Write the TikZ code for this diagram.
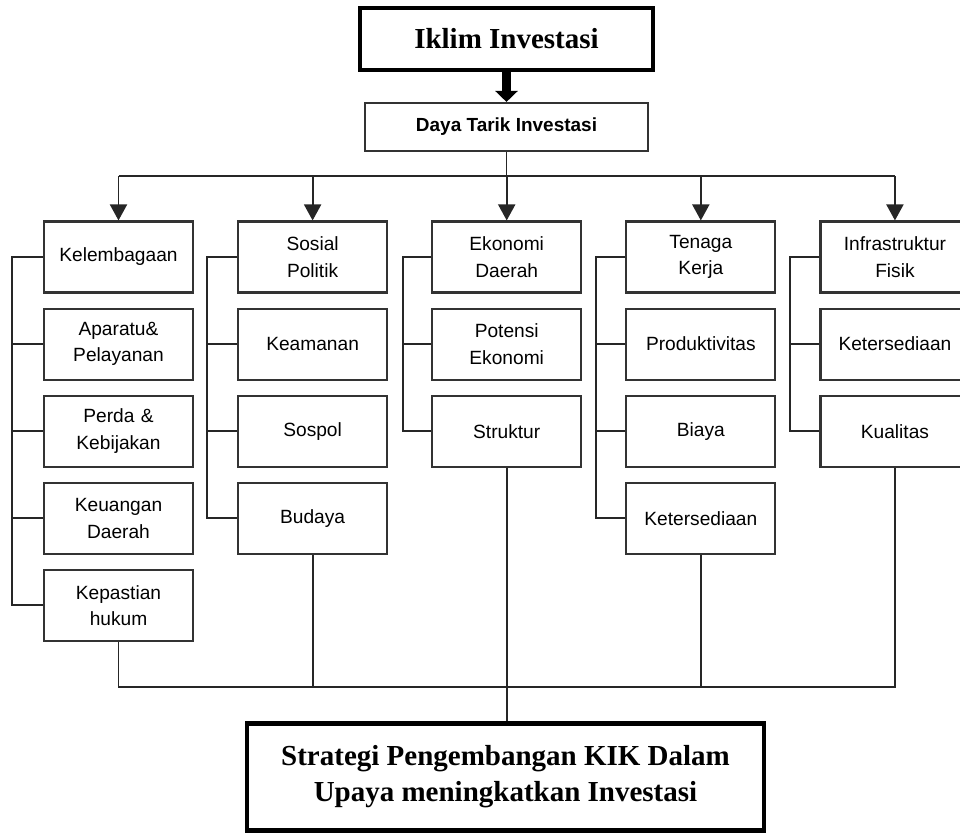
\documentclass[tikz,border=0pt]{standalone}
\usepackage{fontspec}
\setmainfont{Liberation Serif}
\newfontfamily\arialfont{Liberation Sans}
\usepackage{tikz}
\usetikzlibrary{shapes,arrows,arrows.meta,positioning}
\tikzstyle{item} = [rectangle,minimum height=1.42cm,text width=2.6cm,inner xsep=0.19cm,text centered,draw=black!80,line width=1.2pt,font=\arialfont\fontsize{10.9}{15}\selectfont]
\tikzstyle{head} = [rectangle,minimum width=5.66cm,minimum height=0.96cm,text centered,draw=black!80,line width=1.2pt,font=\arialfont\bfseries\fontsize{10.8}{13}\selectfont]
\tikzstyle{title} = [rectangle,align=center,draw=black,line width=2.8pt,font=\bfseries\fontsize{16.5}{20.5}\selectfont]
\tikzstyle{arrow} = [line width=1.1pt,draw=black!85,-{Triangle[width=0.34cm,length=0.32cm]}]
\tikzstyle{line} = [line width=1.1pt,draw=black!85]

\begin{document}
\begin{tikzpicture}
\useasboundingbox (0,0) rectangle (19.2,-16.68);
\clip (0,0) rectangle (19.2,-16.68);

\node (iklim) [title,minimum width=5.86cm,minimum height=1.24cm] at (10.13,-0.78) {Iklim Investasi};
\node (daya) [head] at (10.13,-2.54) {Daya Tarik Investasi};

\node (c1r1) [item] at (2.37,-5.14) {Kelembagaan};
\node (c1r2) [item,below=0.28cm of c1r1] {Aparatu\&\\Pelayanan};
\node (c1r3) [item,below=0.28cm of c1r2] {Perda \&\\Kebijakan};
\node (c1r4) [item,below=0.28cm of c1r3] {Keuangan\\Daerah};
\node (c1r5) [item,below=0.28cm of c1r4] {Kepastian\\hukum};

\node (c2r1) [item,right=0.86cm of c1r1] {Sosial\\Politik};
\node (c2r2) [item,below=0.28cm of c2r1] {Keamanan};
\node (c2r3) [item,below=0.28cm of c2r2] {Sospol};
\node (c2r4) [item,below=0.28cm of c2r3] {Budaya};

\node (c3r1) [item,right=0.86cm of c2r1] {Ekonomi\\Daerah};
\node (c3r2) [item,below=0.28cm of c3r1] {Potensi\\Ekonomi};
\node (c3r3) [item,below=0.28cm of c3r2] {Struktur};

\node (c4r1) [item,right=0.86cm of c3r1] {Tenaga\\Kerja};
\node (c4r2) [item,below=0.28cm of c4r1] {Produktivitas};
\node (c4r3) [item,below=0.28cm of c4r2] {Biaya};
\node (c4r4) [item,below=0.28cm of c4r3] {Ketersediaan};

\node (c5r1) [item,right=0.86cm of c4r1] {Infrastruktur\\Fisik};
\node (c5r2) [item,below=0.28cm of c5r1] {Ketersediaan};
\node (c5r3) [item,below=0.28cm of c5r2] {Kualitas};

\node (strat) [title,minimum width=10.34cm,minimum height=2.14cm] at (10.11,-15.54) {Strategi Pengembangan KIK Dalam\\Upaya meningkatkan Investasi};

\coordinate (split) at (0,-3.52);
\coordinate (base) at (0,-13.74);

%\draw [arrow] (iklim) -- (daya);
\draw [line width=5pt,-{Triangle[width=0.44cm,length=0.22cm]}] (iklim.south) -- (daya.north);
\draw [line] (daya.south) -- (daya.south |- split);
\draw [line] (c1r1.north |- split) -- (c5r1.north |- split);
\draw [arrow] (c1r1.north |- split) -- (c1r1.north);
\draw [arrow] (c2r1.north |- split) -- (c2r1.north);
\draw [arrow] (c3r1.north |- split) -- (c3r1.north);
\draw [arrow] (c4r1.north |- split) -- (c4r1.north);
\draw [arrow] (c5r1.north |- split) -- (c5r1.north);

% side bars
\draw [line] (c1r1.west) -- ++(-0.62,0) |- (c1r5.west);
\draw [line] (c1r2.west) -- ++(-0.62,0);
\draw [line] (c1r3.west) -- ++(-0.62,0);
\draw [line] (c1r4.west) -- ++(-0.62,0);
\draw [line] (c2r1.west) -- ++(-0.6,0) |- (c2r4.west);
\draw [line] (c2r2.west) -- ++(-0.6,0);
\draw [line] (c2r3.west) -- ++(-0.6,0);
\draw [line] (c3r1.west) -- ++(-0.56,0) |- (c3r3.west);
\draw [line] (c3r2.west) -- ++(-0.56,0);
\draw [line] (c4r1.west) -- ++(-0.58,0) |- (c4r4.west);
\draw [line] (c4r2.west) -- ++(-0.58,0);
\draw [line] (c4r3.west) -- ++(-0.58,0);
\draw [line] (c5r1.west) -- ++(-0.58,0) |- (c5r3.west);
\draw [line] (c5r2.west) -- ++(-0.58,0);

% bottom
\draw [line] (c1r5.south) -- (c1r5.south |- base) -- (c5r3.south |- base) -- (c5r3.south);
\draw [line] (c2r4.south) -- (c2r4.south |- base);
\draw [line] (c4r4.south) -- (c4r4.south |- base);
\draw [line] (c3r3.south) -- (c3r3.south |- strat.north);
\end{tikzpicture}
\end{document}
